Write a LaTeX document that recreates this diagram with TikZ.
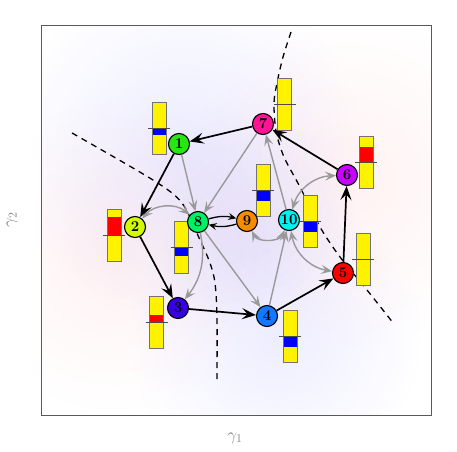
\documentclass[tikz,border=0pt]{standalone}
\usepackage{amsmath,amssymb}
\usepackage{tikz}
\usetikzlibrary{arrows.meta, fadings}

\definecolor{c1}{RGB}{40,230,20}
\definecolor{c2}{RGB}{210,250,0}
\definecolor{c3}{RGB}{55,0,225}
\definecolor{c4}{RGB}{20,120,255}
\definecolor{c5}{RGB}{255,0,0}
\definecolor{c6}{RGB}{200,0,255}
\definecolor{c7}{RGB}{255,20,150}
\definecolor{c8}{RGB}{0,240,100}
\definecolor{c9}{RGB}{245,140,0}
\definecolor{c10}{RGB}{0,240,240}
\tikzfading[name=softblob, inner color=transparent!0, outer color=transparent!100]

\begin{document}
\begin{tikzpicture}[x = 1pt, y = 1pt,
  state/.style = {circle, draw, line width=1.1pt, minimum size=21pt, inner sep=0pt,
    font=\fontsize{15}{15}\bfseries\selectfont},
  cycle/.style = {-{Stealth[length=14pt, width=11pt, inset=5.5pt]}, line width=1.7pt},
  flow/.style = {-{Stealth[length=11pt, width=9pt, inset=4.5pt]}, draw=gray!80, line width=1.4pt},
  twoway/.style = {{Stealth[length=11pt, width=9pt, inset=4.5pt]}-{Stealth[length=11pt, width=9pt, inset=4.5pt]}, draw=gray!80, line width=1.4pt},
  swap/.style = {-{Stealth[length=8pt, width=7pt, inset=3pt]}, line width=1.3pt},
  boundary/.style = {dash pattern=on 6pt off 5pt, line width=1.3pt},
  blob/.style = {path fading=softblob}
]
\useasboundingbox (0,0) rectangle (457,451);

\begin{scope}
  \clip (41,36) rectangle (431,425);
  \fill[blob, blue, opacity=0.08] (185,300) circle (180);
  \fill[blob, blue, opacity=0.07] (275,115) circle (150);
  \fill[blob, blue, opacity=0.05] (250,230) circle (110);
  \fill[blob, red, opacity=0.05] (115,195) circle (160);
  \fill[blob, red, opacity=0.05] (350,270) circle (170);
\end{scope}
\draw[black!65, line width=1pt] (41,36) rectangle (431,425);

\node[text=gray] (xlab) at (235,13) {\LARGE $\gamma_1$};
\node[text=gray, rotate=90] (ylab) at (12,231) {\LARGE $\gamma_2$};

\draw[boundary] plot[smooth] coordinates {(72,318) (153,271) (182,248) (200,211) (210,188) (215,168) (217,134) (217,71)};
\draw[boundary] plot[smooth] coordinates {(291,419) (283,394) (277,368) (274,348) (276,320) (284,294) (300,264) (320,224) (340,194) (367,161) (394,127)};

\foreach \bx/\by/\bc/\bv in {159/323/blue/-7, 284.5/347/blue/-1.2, 366/289/red/15,
    263/261/blue/-11, 310/230/blue/-11, 114/216/red/18, 181.5/204/blue/-9,
    363/192/blue/-1.2, 156.5/129/red/7, 290/115/blue/-11} {
  \fill[yellow] (\bx-7,\by-26) rectangle (\bx+7,\by+26);
  \fill[\bc] (\bx-7,\by) rectangle (\bx+7,\by+\bv);
  \draw[black!55, line width=0.6pt] (\bx-7,\by-26) rectangle (\bx+7,\by+26);
  \draw[black!70, line width=0.5pt] (\bx-11,\by) -- (\bx+11,\by);
}

\node[state, fill=c1] (n1) at (179,307) {1};
\node[state, fill=c2] (n2) at (135,224) {2};
\node[state, fill=c3] (n3) at (178,143) {3};
\node[state, fill=c4] (n4) at (267,135) {4};
\node[state, fill=c5] (n5) at (343,178) {5};
\node[state, fill=c6] (n6) at (347,276) {6};
\node[state, fill=c7] (n7) at (263,327) {7};
\node[state, fill=c8] (n8) at (198,229) {8};
\node[state, fill=c9] (n9) at (247,230) {9};
\node[state, fill=c10] (n10) at (289,231) {10};

\draw[flow] (n1) -- (n8);
\draw[flow] (n7) -- (n8);
\draw[flow] (n8) -- (n4);
\draw[flow] (n4) -- (n10);
\draw[flow] (n10) -- (n7);
\draw[flow] (n8) to[bend left=25] (n3);
\draw[twoway] (n2) to[bend left=45] (n8);
\draw[twoway] (n9) to[bend right=65] (n10);
\draw[twoway] (n10) to[bend right=35] (n5);
\draw[twoway] (n10) to[bend left=35] (n6);

\draw[swap] (n8) to[bend left=15] (n9);
\draw[swap] (n9) to[bend left=15] (n8);

\draw[cycle] (n7) -- (n1);
\draw[cycle] (n1) -- (n2);
\draw[cycle] (n2) -- (n3);
\draw[cycle] (n3) -- (n4);
\draw[cycle] (n4) -- (n5);
\draw[cycle] (n5) -- (n6);
\draw[cycle] (n6) -- (n7);
\end{tikzpicture}
\end{document}
